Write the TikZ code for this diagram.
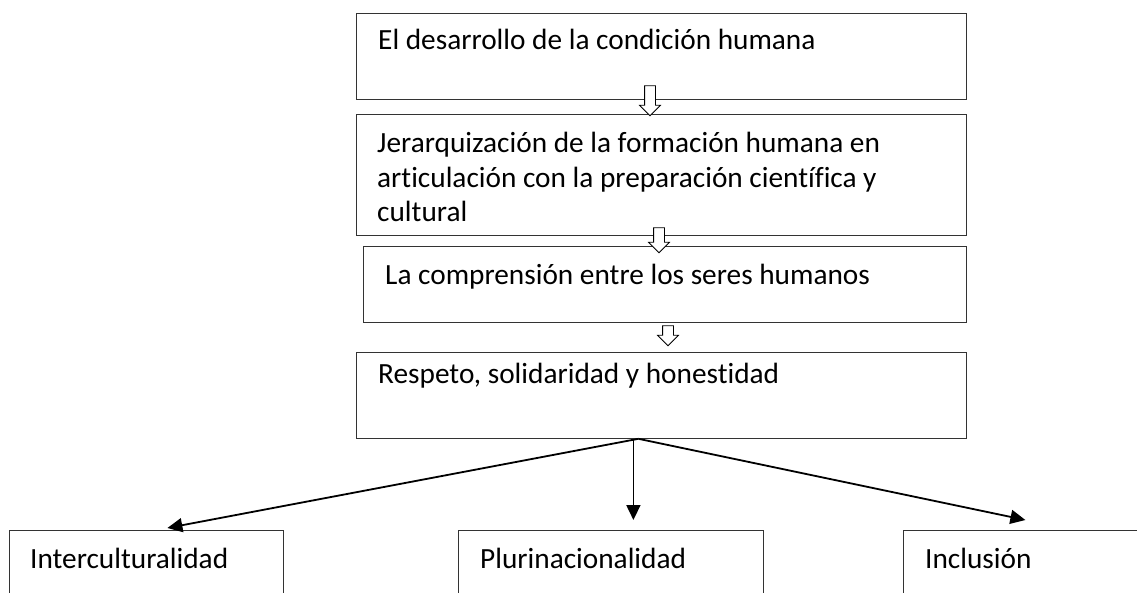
\documentclass[tikz,border=0pt]{standalone}
\usepackage{fontspec}
\setmainfont[Ligatures=NoCommon]{Carlito}
\usetikzlibrary{shapes.arrows,arrows.meta}
\begin{document}
\begin{tikzpicture}[x=1pt, y=-1pt,
	box/.style={draw=black!80, line width=0.8pt, anchor=north west, inner sep=0pt},
	txt/.style={anchor=base west, inner sep=0pt, align=left, font=\fontsize{29.3}{34.5}\selectfont},
	hollow/.style={single arrow, draw=black, line width=0.8pt, fill=white, rotate=-90, inner sep=5pt, single arrow head extend=5pt, minimum width=20pt},
	branch/.style={-{Triangle[length=15pt,width=14pt]}, line width=1.8pt}]
	  \clip (0,0) rectangle (1137,593);
	  % boxes of the chain
	  \node[box, minimum width=610pt, minimum height=86pt] (b1) at (356,13) {};
	  \node[box, minimum width=610pt, minimum height=121pt] (b2) at (356,114) {};
	  \node[box, minimum width=603pt, minimum height=76pt] (b3) at (363,246) {};
	  \node[box, minimum width=610pt, minimum height=86pt] (b4) at (356,352) {};
	  % boxes of the bottom row
	  \node[box, minimum width=274pt, minimum height=80pt] (i1) at (9,530) {};
	  \node[box, minimum width=305pt, minimum height=80pt] (i2) at (458,530) {};
	  \node[box, minimum width=260pt, minimum height=80pt] (i3) at (903,530) {};
	  % texts (multi-line node: base is its last line)
	  \node[txt] (t1) at ([shift={(22,37)}]b1.north west) {El desarrollo de la condición humana};
	  \node[txt] (t2) at ([shift={(21,108)}]b2.north west) {Jerarquización de la formación humana en\\ articulación con la preparación científica y\\ cultural};
	  \node[txt] (t3) at ([shift={(22,39)}]b3.north west) {La comprensión entre los seres humanos};
	  \node[txt] (t4) at ([shift={(22,31)}]b4.north west) {Respeto, solidaridad y honestidad};
	  \node[txt] (t5) at ([shift={(21,38)}]i1.north west) {Interculturalidad};
	  \node[txt] (t6) at ([shift={(22,38)}]i2.north west) {Plurinacionalidad};
	  \node[txt] (t7) at ([shift={(22,38)}]i3.north west) {Inclusión};
	  % hollow arrows
	  \node[hollow, minimum height=30pt] (a1) at (650,98) {};
	  \node[hollow, minimum height=25pt] (a2) at (659,237.5) {};
	  \node[hollow, minimum height=20pt] (a3) at (668,333) {};
	  % branches
	  \coordinate (fork) at ([xshift=-23pt]b4.south);
	  \draw[branch] (fork) -- ([xshift=21pt, yshift=2pt]i1.north);
	  \draw[branch] ([xshift=-28pt]b4.south) -- ([xshift=22.5pt, yshift=10pt]i2.north);
	  \draw[branch] (fork) -- ([xshift=-8pt, yshift=10pt]i3.north);
\end{tikzpicture}
\end{document}
